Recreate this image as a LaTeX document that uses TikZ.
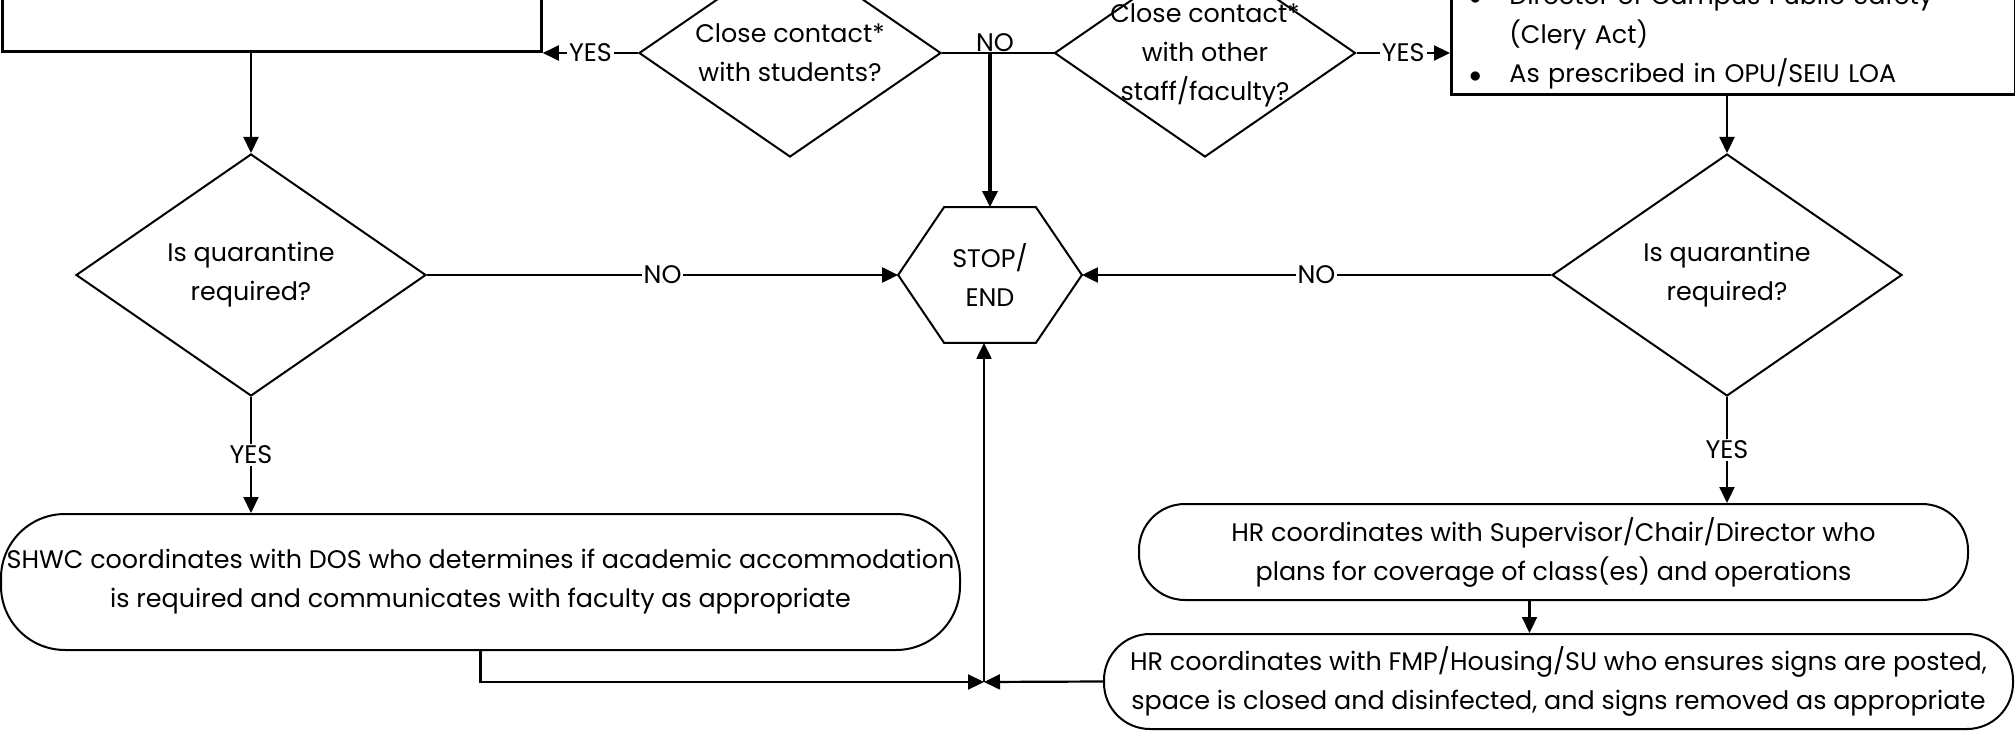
\documentclass[tikz,border=0pt]{standalone}
\usepackage{fontspec}
\setmainfont{Poppins}
\usepackage{tikz}
\usetikzlibrary{positioning,arrows.meta,shapes.geometric}

\begin{document}
\begin{tikzpicture}[
    x=0.5pt, y=-0.5pt,
    every node/.style={font=\fontsize{12.7}{19.5}\selectfont, align=center},
    decision/.style={draw, diamond, line width=1pt, inner sep=0pt},
    stepbox/.style={draw, rectangle, line width=1.4pt, inner sep=0pt},
    action/.style={draw, rectangle, rounded corners=23pt, line width=1pt, inner sep=1pt},
    terminal/.style={rectangle, inner sep=0pt, minimum width=91.5pt, minimum height=67.5pt},
    lbl/.style={fill=white, inner sep=1pt},
    arr/.style={-{Triangle[length=8pt,width=7.5pt]}, line width=1.1pt},
    link/.style={line width=1.1pt},
  ]
    \useasboundingbox (0,0) rectangle (2015,733);
    \clip (0,0) rectangle (2015,733);

    % top row
    \node[stepbox, anchor=south west, minimum width=269.5pt, minimum height=80pt] (report) at (1,53) {};
    \node[decision, minimum width=151pt, minimum height=104pt,
      label=center:{Close contact*\\with students?}] (closeStu) at (790,53) {};
    \node[decision, minimum width=150.5pt, minimum height=104pt,
      label={[yshift=-1pt]center:{Close contact*\\with other\\staff/faculty?}}] (closeStaff) at (1205,53) {};
    \node[stepbox, anchor=south west, text width=264pt, inner xsep=9pt, inner ysep=2.5pt, align=left] (notify) at (1450,96)
      {\makebox[20pt][l]{$\bullet$}Director of Campus Public Safety\\
       \hspace*{20pt}(Clery Act)\\
       \makebox[20pt][l]{$\bullet$}As prescribed in OPU/SEIU LOA};

    % middle row
    \node[decision, minimum width=175pt, minimum height=121pt,
      label=center:{Is quarantine\\required?}] (quarL) at (251,275) {};
    \node[terminal] (stop) at (990,275) {STOP/\\END};
    \draw[line width=1pt] ([xshift=23pt]stop.north west) -- ([xshift=-23pt]stop.north east) -- (stop.east)
      -- ([xshift=-23pt]stop.south east) -- ([xshift=23pt]stop.south west) -- (stop.west) -- cycle;
    \node[decision, minimum width=175pt, minimum height=121pt,
      label=center:{Is quarantine\\required?}] (quarR) at (1727,275) {};

    % bottom row
    \node[action, rounded corners=32pt, minimum width=479.5pt, minimum height=68pt] (shwc) at (480.5,582)
      {SHWC coordinates with DOS who determines if academic accommodation\\is required and communicates with faculty as appropriate};
    \node[action, minimum width=414.5pt, minimum height=48pt] (hrsup) at (1553.5,552)
      {HR coordinates with Supervisor/Chair/Director who\\plans for coverage of class(es) and operations};
    \node[action, minimum width=454.5pt, minimum height=47.5pt] (fmp) at (1558.5,681.5)
      {HR coordinates with FMP/Housing/SU who ensures signs are posted,\\space is closed and disinfected, and signs removed as appropriate};

    \coordinate (noJoin) at (990,53);
    \coordinate (join) at (984,682);

    % connectors
    \draw[arr] (closeStu.west) -- node[lbl] {YES} (report.south east |- closeStu.west);
    \draw[arr] (closeStaff.east) -- node[lbl] {YES} (notify.west |- closeStaff.east);
    \draw[link] (closeStu.east) -- (closeStaff.west);
    \node[anchor=south, inner sep=0.5pt] (noTop) at ([xshift=2.5pt]noJoin) {NO};
    \draw[arr, line width=1.6pt] (noJoin) -- (stop.north);
    \draw[arr] (report.south -| quarL.north) -- (quarL.north);
    \draw[arr] (notify.south -| quarR.north) -- (quarR.north);
    \draw[arr] (quarL.east) -- node[lbl] {NO} (stop.west);
    \draw[arr] (quarR.west) -- node[lbl] {NO} (stop.east);
    \draw[arr] (quarL.south) -- node[lbl] {YES} (shwc.north -| quarL.south);
    \draw[arr] (quarR.south) -- node[lbl] {YES} (hrsup.north -| quarR.south);
    \draw[arr] ([xshift=-12pt]hrsup.south) -- ([xshift=-12pt]hrsup.south |- fmp.north);
    \draw[arr] (shwc.south) |- (join);
    \draw[arr] (fmp.west) -- (join);
    \draw[arr] (join) -- (join |- stop.south);
  \end{tikzpicture}
\end{document}
